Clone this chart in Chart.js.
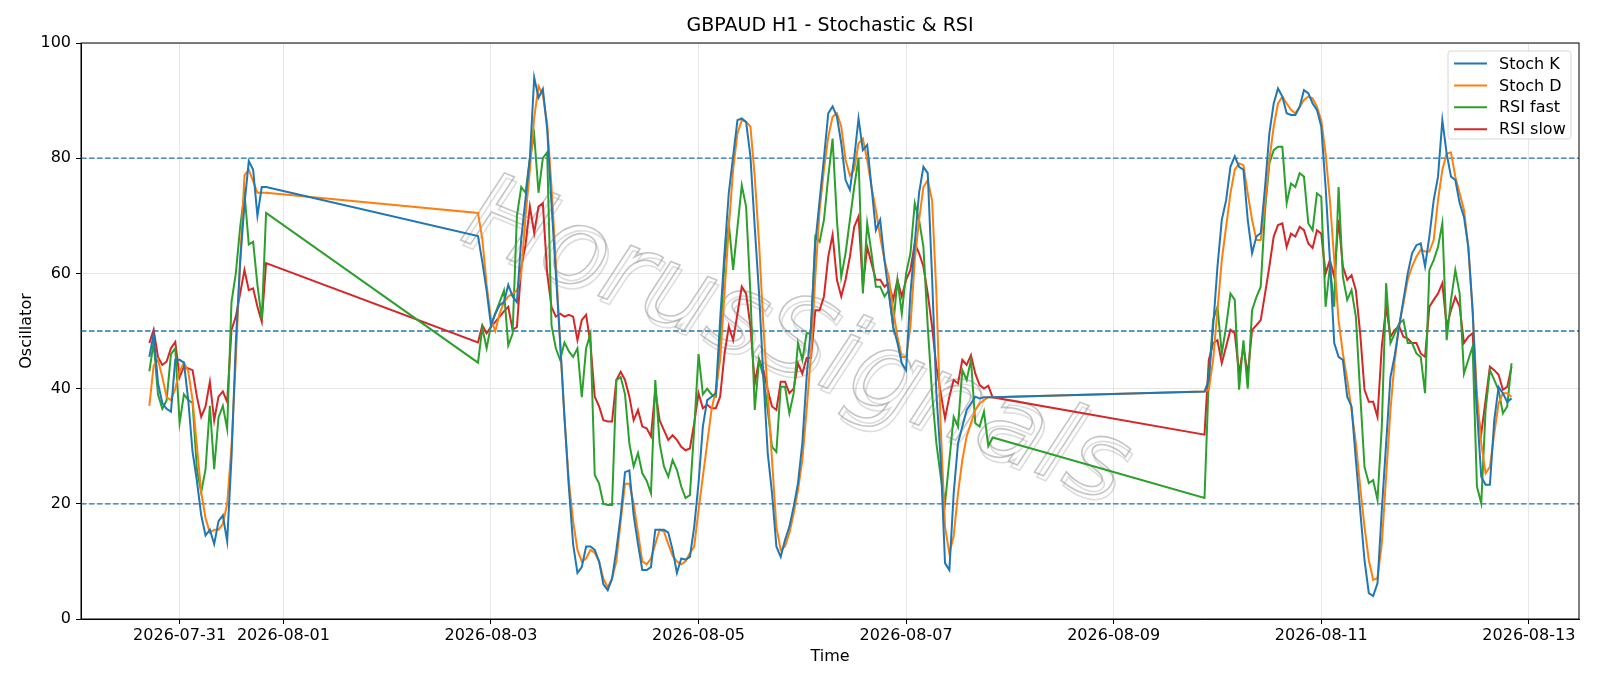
<!DOCTYPE html>
<html><head><meta charset="utf-8">
<script src="https://cdn.jsdelivr.net/npm/chart.js@4.4.1/dist/chart.umd.min.js"></script>
<style>html,body{margin:0;padding:0;background:#fff}#wrap{width:1600px;height:686px}</style>
</head><body><div id="wrap"><canvas id="c" width="1600" height="686"></canvas></div>
<script>
// Hours since 2026-07-31 00:00, trading segments [startHour, count]
const segments = [[-7, 28], [69, 120], [237, 72]];
const tickHours = [0, 24, 72, 120, 168, 216, 264, 312];
const tickLabels = ["2026-07-31","2026-08-01","2026-08-03","2026-08-05","2026-08-07","2026-08-09","2026-08-11","2026-08-13"];
const yTicks = [0,20,40,60,80,100];
const levels = [20, 50, 80];
const titleText = "GBPAUD H1 - Stochastic & RSI";

const stochK = [
45.5,49.5,41,37.5,36.5,36,45,45,44.5,38,29,24,18,14.5,15.5,13,17,18,13.5,28,48,62,72,79.5,78,70,75,75,
66.5,62,57,51,53,54.5,55,58,56,55,66,73,80,94,90.5,92,85,72,60,48,35,23,13,8,9,12.6,12.6,12,10,6,5,7,12,18,25.5,25.8,18,13,8.5,8.5,9,15.5,15.5,15.5,15,12,8,10.5,10.3,
10.8,16,23.6,33.4,38,38.6,39.2,52,63.5,74,80.3,86.6,86.9,86.3,80.3,68,56.5,42,28.8,21.8,12.6,10.8,13.7,16,19.5,23.6,30.5,42,50.8,65.2,72.7,80,87.8,89,87.2,82.6,76.2,74.5,80,86.9,81.4,82.3,75,67.5,69.3,62.3,56.5,50.8,47.9,44.4,43.2,56.5,65.2,74,78.5,77.4,59.4,39.2,27.6,9.7,8.5,21.8,30.5,33.4,36.3,37.4,38.6,38.3,
38.5,38.5,38.5,
39.5,41.5,50.8,61.2,69.3,72.7,78.5,80.3,78.5,78,69.3,63.5,66.4,67,75,84.3,89.5,92.1,90.7,87.8,87.5,87.5,88.9,91.8,91.3,89.5,88.4,85.5,75,62.3,47.9,45.5,45,38.6,36.9,27.6,18.9,10.2,4.5,4,6.2,18.9,30.5,42,45.8,50.8,55.4,60,63.5,64.9,65.2,61.2,66.4,72.7,76.8,86.6,80.8,76.8,76.2,72.2,69.8,64.6,53.6,36.3,24.7,23.3,23.3,34.5,40.3,39.2,37.7,38.3];
const stochD = [
37,44,45,42,38.5,38,40,43,44.5,43,38,30,22,17.5,15,15.5,15.5,16.5,20,30,45,62,77,78,76,74,74,74,
70.5,66,58,52,50,53,55,56,56.5,57,60,70,78,87,92.5,91,86,75,62,48,35,24,17,12,10,10.5,12,11.5,10,7,5.5,7,10,17,23.5,23.5,20,15,10,9.5,10.5,13,15.5,15.2,13,11,10,9.5,10,
11.4,12.6,18.9,24.7,30.5,36.3,39.8,45,56.5,68,78,84.3,86.6,86.3,85.5,76.8,65.2,50.8,39.2,27.6,16,12,12.6,14.9,18.3,22.4,27.6,36.3,46,59.4,71,78,83.7,87.2,87.8,85.5,79.7,77,78,82.6,83.4,79.7,75,71,66.4,62.3,59.4,53.6,49,45.5,45.5,50.8,62.3,69.3,75,76.2,72.7,56.5,33.4,16,11.4,14.4,21.8,27.6,31.7,34,36.3,37.4,
38,38.5,38.5,
39.5,39.8,45,53.6,62.3,68.1,73.9,78,79.1,78.8,73.9,69.3,65.8,65.8,72.2,79.7,85.5,89.5,90.7,89.5,88.4,87.8,88.9,90.1,90.7,90.4,88.9,86.6,80.8,72.7,62.3,51.9,46.1,41.5,36.3,30.5,23,16,10.2,6.8,7.1,13.1,24.7,36.3,45,50.8,54.8,58.9,61.2,62.9,64.1,63.8,63.8,65.8,72.7,78,80.8,81,76.8,73.9,71,64.6,53.6,39.2,30.5,25.3,26.4,32.2,37.4,39.2,39.2,38.6];
const rsiFast = [
43,48,39,36.5,38,46,47,34,39,38,37.5,26,22,26,37,26,35,37,33,55,60,68,74,65,65.5,58,52,70.5,
44.5,50.5,47,51,53,55,57,47.5,49.5,70,75,74,80,84,74,80,81,51,47,45,48,46.5,45.5,47,38.5,47,49.5,25,23.5,20,19.8,19.8,41.5,42,39,30.5,26.5,28.8,25.3,24,21.8,41.5,30.5,26.5,24.7,27.6,25.9,23,21,
21.5,33,46,39,40,39,38.6,48,62,68.7,60.6,68,75.3,71.6,56.5,36.3,45,42,36.3,29.9,29,40.3,40.3,35.7,39.2,47.9,45,49.6,49.6,66.4,65.5,69.3,76.8,83.4,69.3,59.4,63.5,69.3,75,80,56.5,68.7,63.5,57.7,57.7,56,57.1,50.8,58.9,53,60,63.5,72.2,69.3,64.6,50.8,39.2,30.5,24.7,20.1,27.6,35.1,33.4,43.2,41.5,45,34,33.4,
36,30,31.5,
21,42,51.9,54.2,46.1,50.8,56.5,55.4,39.8,48.4,40,53.6,55.9,57.7,71,79.1,81.4,82,82,72.2,75.6,75,77.4,76.8,68.7,67.5,73.9,73.3,54.2,61.2,54.2,75,59.4,55.4,57.1,52.5,39.2,26.4,23.6,24.1,20.7,33.4,58.3,47.9,49.6,51.3,51.9,47.9,47.9,46.1,45.5,39.2,60.6,62.3,64.6,68.7,48.4,55.4,60.6,56.5,42.6,45,47.3,23,20.1,36.3,43.2,41.5,39.8,35.7,36.9,44.4];
const rsiSlow = [
47.9,50.2,45.5,44.1,44.7,47,48.1,42,43.8,43.5,43.2,38.6,35.1,36.9,41.2,34.5,38.6,39.5,37.7,50.2,52.5,56.5,60.6,57.1,57.4,54.2,51.6,61.8,
48,51,49.6,50.7,51.6,52.5,53.4,54.2,50.2,50.7,61,65,71.6,67,71.6,72.2,60,54.2,52.5,53,52.5,52.8,52.5,48.4,51.9,52.8,47.9,38.6,36.9,34.5,34.3,34.3,41.5,42.9,41.5,38.6,34.5,36.3,33.4,33.1,31.7,39.8,34.5,32.8,31.1,31.9,31.1,29.9,29.3,
29.6,34,39.2,36.6,37.2,36.6,36.6,38.6,46,50.8,48.4,53,57.7,56.5,50.8,40.9,45,43.2,39.8,36.9,36.3,41.2,41.2,39.2,40,44.4,42.6,45.3,45.3,53.6,53.6,56,62.9,66.7,58.9,56,58.9,62.9,68.1,69.9,57.7,64.6,61.7,58.9,58.9,57.7,58.3,55.4,58.9,56,58.9,60.6,65.2,63.5,61.2,56.5,50.8,43.8,39.2,34.8,38.6,41.5,40.9,45,44.1,45.8,42.6,40.6,
40,40.5,38.5,
32,45,47.9,48.4,44.4,47.3,50.2,49.6,42.6,47.3,42.4,50.2,51,51.9,56.5,61.2,66.4,68.4,68.7,64.6,66.9,66.4,68.1,67.5,65.2,64.4,67.5,66.9,60,62.3,59.4,69.3,61.2,58.9,59.7,57.1,49.6,39.8,37.7,37.7,35.1,47.3,54.2,49,50.2,50.8,49,48.7,47.9,47.9,46.1,45.5,54.2,55.4,56.5,58.3,50.8,53.6,55.9,54.2,47.9,49,49.6,36.3,32.2,38,43.8,43.2,42.4,39.8,40.3,43.8];

const hours = [];
segments.forEach(([s, n]) => { for (let i = 0; i < n; i++) hours.push(s + i); });
const pts = arr => arr.map((v, i) => ({x: hours[i], y: v}));

const series = [
  {label: "Stoch K", data: stochK, color: "#1f77b4"},
  {label: "Stoch D", data: stochD, color: "#ff7f0e"},
  {label: "RSI fast", data: rsiFast, color: "#2ca02c"},
  {label: "RSI slow", data: rsiSlow, color: "#d62728"}
];

const FONT = "'DejaVu Sans', sans-serif";

const overlay = {
  id: "overlay",
  beforeDatasetsDraw(chart) {
    const {ctx, chartArea: a, scales: {y}} = chart;
    ctx.save();
    ctx.strokeStyle = "#1f77b4"; ctx.lineWidth = 1.3; ctx.setLineDash([5.5, 2.5]);
    levels.forEach(l => { const py = y.getPixelForValue(l); ctx.beginPath(); ctx.moveTo(a.left, py); ctx.lineTo(a.right, py); ctx.stroke(); });
    ctx.restore();
    ctx.save();
    ctx.translate(795, 345);
    ctx.rotate(22 * Math.PI / 180);
    ctx.font = "italic 108px " + FONT;
    ctx.textAlign = "center"; ctx.textBaseline = "middle";
    ctx.lineWidth = 1.6;
    ctx.strokeStyle = "rgba(120,120,120,0.25)";
    ctx.strokeText("HorusSignals", 4, 4);
    ctx.strokeStyle = "rgba(150,150,150,0.55)";
    ctx.strokeText("HorusSignals", 0, 0);
    ctx.restore();
  },
  afterDraw(chart) {
    const {ctx, chartArea: a} = chart;
    ctx.save();
    ctx.strokeStyle = "#000"; ctx.lineWidth = 1; ctx.setLineDash([]);
    ctx.strokeRect(a.left, a.top, a.right - a.left, a.bottom - a.top);
    // title
    ctx.fillStyle = "#000"; ctx.font = "19px " + FONT; ctx.textAlign = "center"; ctx.textBaseline = "middle";
    ctx.fillText(titleText, (a.left + a.right) / 2, 26);
    // legend
    const bx = 1448, by = 51, bw = 123, bh = 88;
    ctx.fillStyle = "rgba(255,255,255,0.85)";
    ctx.strokeStyle = "#d6d6d6";
    ctx.beginPath(); ctx.roundRect(bx, by, bw, bh, 3); ctx.fill(); ctx.stroke();
    ctx.font = "16px " + FONT; ctx.textBaseline = "middle"; ctx.textAlign = "left";
    series.forEach((s, i) => {
      const yy = 63.5 + i * 21.9;
      ctx.strokeStyle = s.color; ctx.lineWidth = 2;
      ctx.beginPath(); ctx.moveTo(1454, yy); ctx.lineTo(1487, yy); ctx.stroke();
      ctx.fillStyle = "#000"; ctx.fillText(s.label, 1499, yy + 1);
    });
    ctx.restore();
  }
};

new Chart(document.getElementById("c"), {
  type: "line",
  data: {
    datasets: series.map(s => ({
      label: s.label, data: pts(s.data), borderColor: s.color, backgroundColor: s.color,
      borderWidth: 2, pointRadius: 0, tension: 0, fill: false
    }))
  },
  options: {
    responsive: false, animation: false, devicePixelRatio: 1,
    layout: {padding: {left: 17, right: 21, top: 43, bottom: 20}},
    plugins: {legend: {display: false}, tooltip: {enabled: false}, title: {display: false}},
    scales: {
      x: {
        type: "linear", min: -22.8, max: 323.6,
        afterBuildTicks: sc => { sc.ticks = tickHours.map(v => ({value: v})); },
        afterFit: sc => { sc.height = 47; },
        ticks: {callback: v => tickLabels[tickHours.indexOf(v)], color: "#000", font: {family: FONT, size: 16}, maxRotation: 0, autoSkip: false, padding: 2},
        grid: {color: "#e6e6e6", tickColor: "#000", tickLength: 5, drawTicks: true},
        border: {color: "#000"},
        title: {display: true, text: "Time", color: "#000", font: {family: FONT, size: 16}, padding: {top: 0, bottom: 0}}
      },
      y: {
        min: 0, max: 100,
        afterBuildTicks: sc => { sc.ticks = yTicks.map(v => ({value: v})); },
        afterFit: sc => { sc.width = 64; },
        ticks: {color: "#000", font: {family: FONT, size: 16}, padding: 5},
        grid: {color: "#e6e6e6", tickColor: "#000", tickLength: 5},
        border: {color: "#000"},
        title: {display: true, text: "Oscillator", color: "#000", font: {family: FONT, size: 16}, padding: {top: 0, bottom: 0}}
      }
    }
  },
  plugins: [overlay]
});
</script></body></html>
